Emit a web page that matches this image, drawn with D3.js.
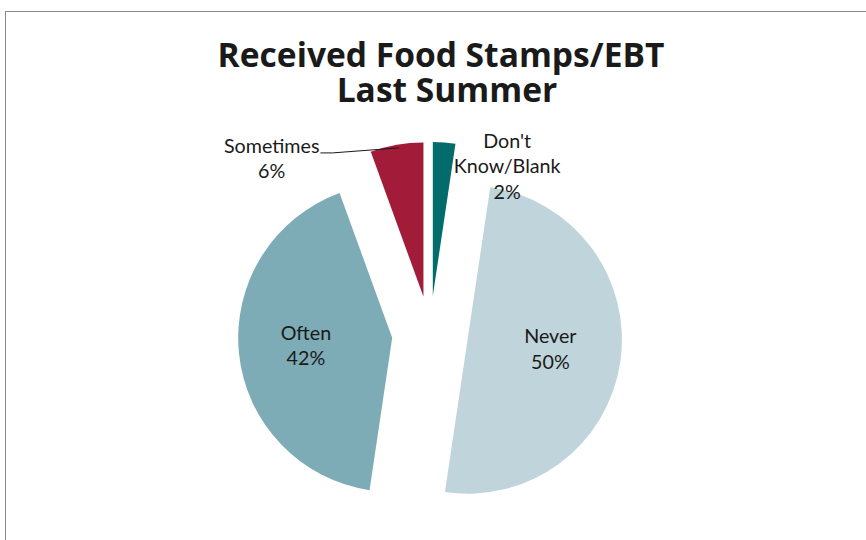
<!DOCTYPE html>
<html>
<head>
<meta charset="utf-8">
<script src="https://cdn.jsdelivr.net/npm/d3@7"></script>
<style>
  html, body { margin: 0; padding: 0; background: #fff; }
  svg { display: block; }
  text { font-family: Lato, "Open Sans", sans-serif; fill: #1a1a1a; }
  .title { font-family: "Open Sans", Lato, sans-serif; font-weight: bold; }
</style>
</head>
<body>
<svg id="chart" width="866" height="540"></svg>
<script>
// ---- data ----
const titleLines = ["Received Food Stamps/EBT", "Last Summer"];
const categories = ["Don't Know/Blank", "Never", "Often", "Sometimes"];
const labelLines = [["Don't", "Know/Blank"], ["Never"], ["Often"], ["Sometimes"]];
const values = [2.35, 50.0, 42.1, 5.55];
const percentLabels = ["2%", "50%", "42%", "6%"];
const colors = ["#026b6c", "#c0d4db", "#7eacb6", "#a21b38"];

// ---- layout ----
const cx = 430, cy = 334, R = 154, explode = 38;
const labelFont = 19.7, lineH = 25.5;
const titleWidth = 447;
const labelMode = ["outside", "inside", "inside", "outside"];
const outsideOffset = [[63, 5], null, null, [-125, 8]];
const insideShift = [null, [-1, -11], [-2, -9], null];

const svg = d3.select("#chart");

// chart border (clipped at right/bottom like the reference)
svg.append("rect")
  .attr("x", 5.5).attr("y", 11.5)
  .attr("width", 880).attr("height", 560)
  .attr("fill", "none").attr("stroke", "#8a8a8a").attr("stroke-width", 1);

// title (single text element, two lines)
const title = svg.append("text").attr("class", "title")
  .attr("text-anchor", "middle").style("font-size", "32px");
const t1 = title.append("tspan").attr("x", 441).attr("y", 67).text(titleLines[0]);
const w1 = t1.node().getComputedTextLength();
const titleSize = 32 * titleWidth / w1;
title.style("font-size", titleSize + "px");
title.append("tspan").attr("x", 447).attr("y", 102).text(titleLines[1]);

const pie = d3.pie().sort(null).value(d => d)(values);
const arc = d3.arc().innerRadius(0).outerRadius(R);

function offsetOf(d) {
  const m = (d.startAngle + d.endAngle) / 2;
  return [explode * Math.sin(m), -explode * Math.cos(m)];
}

const g = svg.append("g").attr("transform", `translate(${cx},${cy})`);

g.selectAll("path.slice").data(pie).enter().append("path")
  .attr("class", "slice")
  .attr("d", arc)
  .attr("fill", (d, i) => colors[i])
  .attr("transform", d => { const o = offsetOf(d); return `translate(${o[0]},${o[1]})`; });

// labels
pie.forEach((d, i) => {
  const o = offsetOf(d);
  const m = (d.startAngle + d.endAngle) / 2;
  const lines = labelLines[i].concat([percentLabels[i]]);
  let x, yFirst;
  if (labelMode[i] === "inside") {
    const rr = R * 0.55;
    x = o[0] + rr * Math.sin(m) + insideShift[i][0];
    const yc = o[1] - rr * Math.cos(m);
    yFirst = yc - (lines.length - 1) * lineH / 2 + 15 + insideShift[i][1];
  } else {
    const px = o[0] + R * Math.sin(m), py = o[1] - R * Math.cos(m);
    x = px + outsideOffset[i][0];
    yFirst = py + outsideOffset[i][1];
  }
  const t = g.append("text").attr("text-anchor", "middle").style("font-size", labelFont + "px");
  lines.forEach((ln, k) => {
    t.append("tspan").attr("x", x).attr("y", yFirst + k * lineH).text(ln);
  });

  // leader line for Sometimes
  if (categories[i] === "Sometimes") {
    const bb = t.node().getBBox();
    const px = o[0] + (R - 3) * Math.sin(m) + 2, py = o[1] - (R - 3) * Math.cos(m);
    const sx = bb.x + bb.width + 1, sy = yFirst;
    g.append("path")
      .attr("d", d3.line()([[sx, sy], [sx + 12, sy], [px, py]]))
      .attr("fill", "none").attr("stroke", "#1a1a1a").attr("stroke-width", 1);
  }
});
</script>
</body>
</html>
